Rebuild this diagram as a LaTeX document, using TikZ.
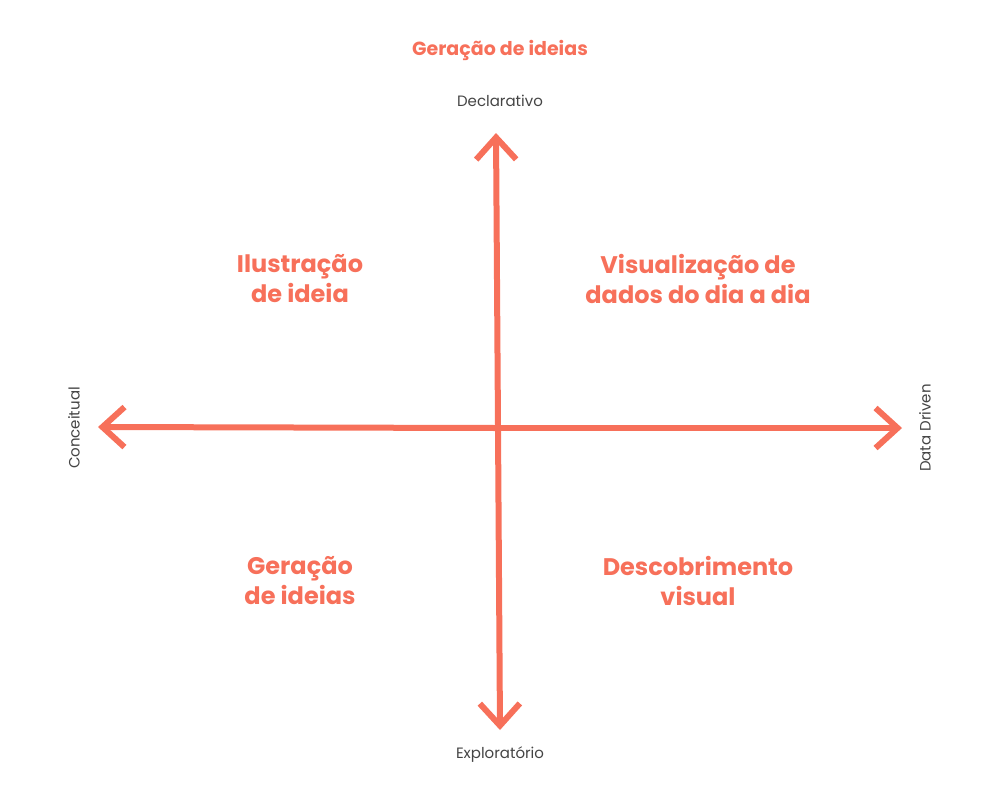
\documentclass[tikz,border=0pt]{standalone}
\usepackage{fontspec}
\setmainfont{Poppins}
\usetikzlibrary{arrows.meta}
\definecolor{sal}{HTML}{F7705A}
\definecolor{gr}{HTML}{444444}
\begin{document}
\begin{tikzpicture}[x=1pt,y=-1pt,
  axis/.style={draw=sal,line width=6pt,line cap=round,line join=round,-{Straight Barb[length=22pt,width=40pt,line width=6pt]}},
  quad/.style={text=sal,font=\fontsize{24}{30}\selectfont\bfseries,align=center},
  small/.style={text=gr,font=\fontsize{15}{18}\selectfont}]
\useasboundingbox (0,0) rectangle (1000,804);
\coordinate (c) at (498,428);
\coordinate (t) at (496,133);
\coordinate (b) at (500,730);
\coordinate (l) at (98,427);
\coordinate (r) at (902,428);
\draw[axis] (c) -- (t);
\draw[axis] (c) -- (b);
\draw[axis] (c) -- (l);
\draw[axis] (c) -- (r);
\node[text=sal,font=\fontsize{19}{22}\selectfont\bfseries] (title) at (500,50) {Geração de ideias};
\node[small] (dec) at (500,101) {Declarativo};
\node[small] (exp) at (500,755) {Exploratório};
\node[small,rotate=90] (con) at (74,428) {Conceitual};
\node[small,rotate=90] (dd) at (925,428) {Data Driven};
\node[quad] (q1) at (300,279) {Ilustração\\de ideia};
\node[quad] (q2) at (698,279) {Visualização de\\dados do dia a dia};
\node[quad] (q3) at (300,581) {Geração\\de ideias};
\node[quad] (q4) at (698,581) {Descobrimento\\visual};
\end{tikzpicture}
\end{document}
